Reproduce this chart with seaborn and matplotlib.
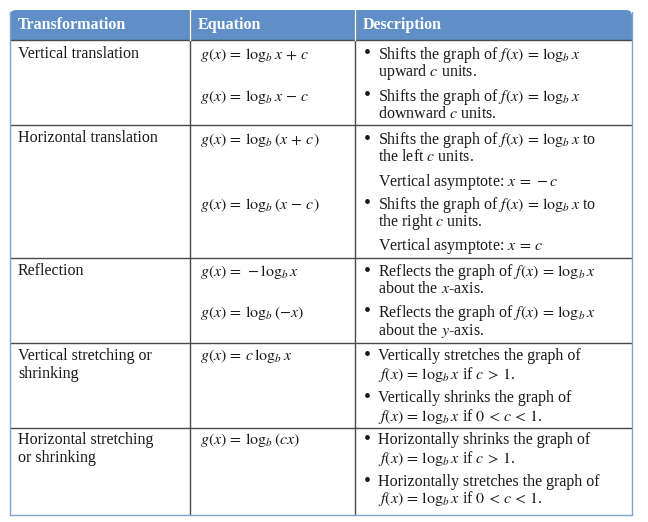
import matplotlib
matplotlib.use("Agg")
import matplotlib.pyplot as plt
import seaborn as sns
from matplotlib.patches import FancyBboxPatch, Rectangle

sns.set_theme(style="white")
plt.rcParams['font.family'] = ['Liberation Serif', 'DejaVu Serif']
plt.rcParams['mathtext.fontset'] = 'stix'

headers = ['Transformation', 'Equation', 'Description']
col_x = [10, 190, 355, 632]
row_y = [10, 40, 125, 258, 343, 428, 515]

# (text, y) per column, per row
labels = [
    [('Vertical translation', 54)],
    [('Horizontal translation', 138)],
    [('Reflection', 271)],
    [('Vertical stretching or', 356), ('shrinking', 374)],
    [('Horizontal stretching', 440), ('or shrinking', 458)],
]
equations = [
    [(r'$g(x)\,=\,\log_b x\,+\,c$', 55), (r'$g(x)\,=\,\log_b x\,-\,c$', 97)],
    [(r'$g(x)\,=\,\log_b(x\,+\,c)$', 140), (r'$g(x)\,=\,\log_b(x\,-\,c)$', 205)],
    [(r'$g(x)\,=\,-\log_b x$', 272), (r'$g(x)\,=\,\log_b(-x)$', 313)],
    [(r'$g(x)\,=\,c\,\log_b x$', 356)],
    [(r'$g(x)\,=\,\log_b(cx)$', 440)],
]
# (bullet?, text, y)
descriptions = [
    [(True, r'Shifts the graph of $f(x)\,=\,\log_b x$', 55), (False, r'upward $c$ units.', 72),
     (True, r'Shifts the graph of $f(x)\,=\,\log_b x$', 97), (False, r'downward $c$ units.', 114)],
    [(True, r'Shifts the graph of $f(x)\,=\,\log_b x$ to', 140), (False, r'the left $c$ units.', 157),
     (False, r'Vertical asymptote: $x\,=\,-c$', 182),
     (True, r'Shifts the graph of $f(x)\,=\,\log_b x$ to', 205), (False, r'the right $c$ units.', 222),
     (False, r'Vertical asymptote: $x\,=\,c$', 246)],
    [(True, r'Reflects the graph of $f(x)\,=\,\log_b x$', 272), (False, r'about the $x$-axis.', 289),
     (True, r'Reflects the graph of $f(x)\,=\,\log_b x$', 313), (False, r'about the $y$-axis.', 330)],
    [(True, r'Vertically stretches the graph of', 356), (False, r'$f(x)\,=\,\log_b x$ if $c\,>\,1$.', 374),
     (True, r'Vertically shrinks the graph of', 398), (False, r'$f(x)\,=\,\log_b x$ if $0\,<\,c\,<\,1$.', 416)],
    [(True, r'Horizontally shrinks the graph of', 440), (False, r'$f(x)\,=\,\log_b x$ if $c\,>\,1$.', 458),
     (True, r'Horizontally stretches the graph of', 482), (False, r'$f(x)\,=\,\log_b x$ if $0\,<\,c\,<\,1$.', 499)],
]

fig = plt.figure(figsize=(6.48, 5.22), dpi=100)
ax = fig.add_axes([0, 0, 1, 1])
ax.set_xlim(0, 648)
ax.set_ylim(522, 0)
ax.axis('off')

line_c = '#4a4a4a'
head_c = '#5f8fc6'
fs = 11.5

# header band with rounded top
ax.add_patch(FancyBboxPatch((col_x[0], row_y[0]), col_x[-1] - col_x[0], 30,
                            boxstyle='round,pad=0,rounding_size=6', fc=head_c, ec='none'))
ax.add_patch(Rectangle((col_x[0], row_y[0] + 15), col_x[-1] - col_x[0], 15, fc=head_c, ec='none'))
for i, h in enumerate(headers):
    ax.text(col_x[i] + 8, 25, h, color='white', fontweight='bold', fontsize=fs, va='center')

# grid lines
for y in row_y[1:-1]:
    ax.plot([col_x[0], col_x[-1]], [y, y], color=line_c, lw=1)
for x in col_x:
    ax.plot([x, x], [row_y[0] + 2, row_y[-1]], color=line_c if x not in (col_x[0], col_x[-1]) else '#7fa3cf', lw=1)
ax.plot([col_x[0], col_x[-1]], [row_y[-1], row_y[-1]], color='#7fa3cf', lw=1)
for x in col_x[1:-1]:
    ax.plot([x, x], [row_y[0], row_y[1]], color='white', lw=1)

for row in labels:
    for t, y in row:
        ax.text(col_x[0] + 8, y, t, fontsize=fs, va='center', color='#1a1a1a')
for row in equations:
    for t, y in row:
        ax.text(col_x[1] + 10, y, t, fontsize=fs, va='center', color='#1a1a1a')
for row in descriptions:
    for b, t, y in row:
        if b:
            ax.text(col_x[2] + 9, y, '•', fontsize=fs + 3, va='center', color='#1a1a1a')
        ax.text(col_x[2] + 23, y, t, fontsize=fs, va='center', color='#1a1a1a')

fig.savefig('out.png', dpi=100)
